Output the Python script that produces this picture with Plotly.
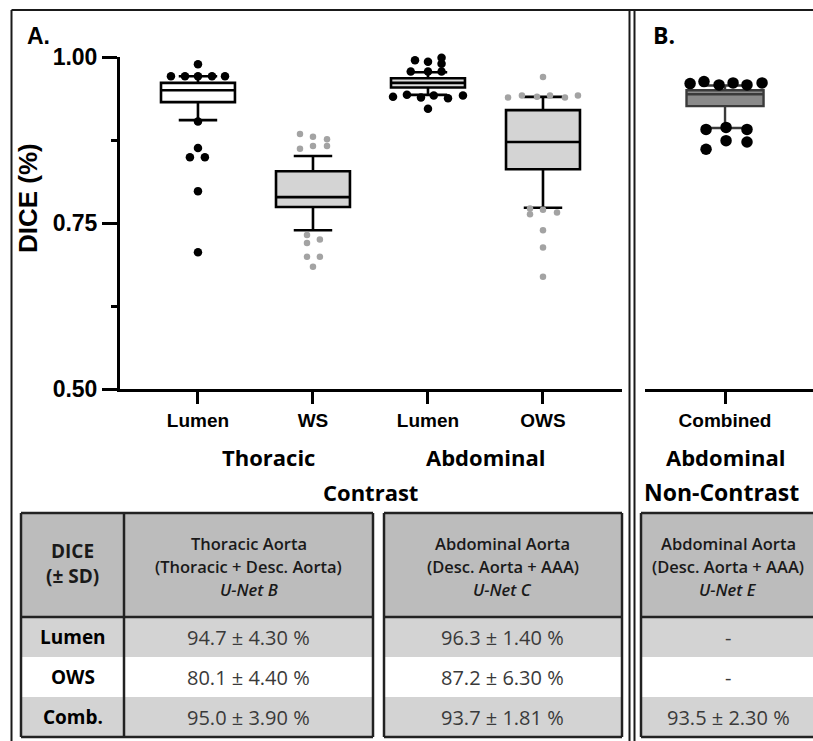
import plotly.graph_objects as go

W, H = 813, 741

# ---------------- data ----------------
a_labels = ["Lumen", "WS", "Lumen", "OWS"]
a_groups = ["Thoracic", "Abdominal"]
a_condition = "Contrast"
b_labels = ["Combined"]
b_group = "Abdominal"
b_condition = "Non-Contrast"

y_tickvals = [0.50, 0.75, 1.00]
y_ticktext = ["0.50", "0.75", "1.00"]
y_minorvals = [0.625, 0.875]

# box statistics (panel A, in order of a_labels)
a_q1 = [0.932, 0.774, 0.954, 0.831]
a_median = [0.950, 0.789, 0.961, 0.872]
a_q3 = [0.961, 0.828, 0.968, 0.920]
a_lower = [0.905, 0.739, 0.943, 0.773]
a_upper = [0.971, 0.851, 0.977, 0.940]

# box statistics (panel B)
b_q1 = [0.926]
b_median = [0.944]
b_q3 = [0.950]
b_lower = [0.893]
b_upper = [0.957]

# outliers (value, spread offset)
thor_lumen_out = [0.989, 0.971, 0.971, 0.971, 0.971, 0.971, 0.903, 0.863, 0.849, 0.849, 0.798, 0.706]
thor_lumen_dx = [0, -0.235, -0.113, 0, 0.122, 0.235, 0, 0, -0.07, 0.06, 0, 0]

thor_ws_out = [0.884, 0.862, 0.880, 0.866, 0.876, 0.866, 0.732, 0.720, 0.725, 0.699, 0.699, 0.684]
thor_ws_dx = [-0.113, -0.113, 0, 0, 0.122, 0.122, -0.052, -0.052, 0.06, -0.052, 0.06, 0]

abd_lumen_out = [0.995, 0.993, 0.999, 0.990, 0.978, 0.978, 0.978,
                 0.940, 0.943, 0.939, 0.942, 0.938, 0.942, 0.922]
abd_lumen_dx = [-0.113, 0, 0.118, 0.118, -0.15, 0, 0.118,
                -0.304, -0.183, -0.061, 0.05, 0.174, 0.304, 0]

abd_ows_out = [0.970, 0.939, 0.942, 0.940, 0.942, 0.939, 0.942,
               0.772, 0.763, 0.770, 0.766, 0.739, 0.713, 0.669]
abd_ows_dx = [0, -0.304, -0.183, -0.052, 0.061, 0.191, 0.304,
              -0.113, -0.113, 0, 0.122, 0, 0, 0]

b_out = [0.960, 0.963, 0.958, 0.961, 0.958, 0.961, 0.891, 0.894, 0.891, 0.874, 0.872, 0.861]
b_dx = [-0.304, -0.183, -0.052, 0.070, 0.191, 0.322, -0.165, 0.009, 0.191, 0.009, 0.191, -0.165]

# table
table_corner = ["DICE", "(± SD)"]
table_row_labels = ["Lumen", "OWS", "Comb."]
thor_header = ["Thoracic Aorta", "(Thoracic + Desc. Aorta)", "<i>U-Net B</i>"]
thor_values = ["94.7 ± 4.30 %", "80.1 ± 4.40 %", "95.0 ± 3.90 %"]
abd_header = ["Abdominal Aorta", "(Desc. Aorta + AAA)", "<i>U-Net C</i>"]
abd_values = ["96.3 ± 1.40 %", "87.2 ± 6.30 %", "93.7 ± 1.81 %"]
nc_header = ["Abdominal Aorta", "(Desc. Aorta + AAA)", "<i>U-Net E</i>"]
nc_values = ["-", "-", "93.5 ± 2.30 %"]

# ---------------- helpers ----------------
def px(x):
    return x / W


def py(y):
    return 1 - y / H


AX_FONT = "Liberation Sans, Arial, sans-serif"
TB_FONT = "Open Sans, Noto Sans, sans-serif"

fig = go.Figure()

a_fill = ["#ffffff", "#d4d4d4", "#dcdcdc", "#d4d4d4"]
for i in range(len(a_labels)):
    fig.add_trace(go.Box(
        x=[i], q1=[a_q1[i]], median=[a_median[i]], q3=[a_q3[i]],
        lowerfence=[a_lower[i]], upperfence=[a_upper[i]],
        width=0.643, whiskerwidth=0.52, boxpoints=False,
        fillcolor=a_fill[i], line=dict(color="black", width=2.6),
        xaxis="x", yaxis="y", hoverinfo="skip",
    ))

fig.add_trace(go.Box(
    x=[0], q1=b_q1, median=b_median, q3=b_q3,
    lowerfence=b_lower, upperfence=b_upper,
    width=0.67, whiskerwidth=0.53, boxpoints=False,
    fillcolor="#8a8a8a", line=dict(color="#3a3a3a", width=2.4),
    xaxis="x2", yaxis="y2", hoverinfo="skip",
))

out_sets = [
    (0, thor_lumen_out, thor_lumen_dx, "black", 8.5),
    (1, thor_ws_out, thor_ws_dx, "#a3a3a3", 6.5),
    (2, abd_lumen_out, abd_lumen_dx, "black", 8.5),
    (3, abd_ows_out, abd_ows_dx, "#a3a3a3", 6.5),
]
for pos, vals, dxs, col, sz in out_sets:
    fig.add_trace(go.Scatter(
        x=[pos + d for d in dxs], y=vals, mode="markers",
        marker=dict(color=col, size=sz, line=dict(width=0)),
        cliponaxis=False, xaxis="x", yaxis="y", hoverinfo="skip",
    ))

fig.add_trace(go.Scatter(
    x=[0 + d for d in b_dx], y=b_out, mode="markers",
    marker=dict(color="black", size=11.5, line=dict(width=0)),
    cliponaxis=False, xaxis="x2", yaxis="y2", hoverinfo="skip",
))

ydom = [py(389), py(57)]
axis_common = dict(showgrid=False, zeroline=False, showline=True, linecolor="black",
                   linewidth=3, ticks="outside", tickcolor="black", tickwidth=2.6,
                   automargin=False)

fig.update_layout(
    width=W, height=H, margin=dict(l=0, r=0, t=0, b=0, pad=0, autoexpand=False),
    paper_bgcolor="white", plot_bgcolor="rgba(0,0,0,0)", showlegend=False,
    xaxis=dict(domain=[px(120), px(622)], range=[-0.678, 3.687], anchor="y",
               tickvals=list(range(len(a_labels))), ticktext=a_labels, ticklen=12,
               tickfont=dict(family=AX_FONT, size=19, color="black", weight="bold"),
               **axis_common),
    yaxis=dict(domain=ydom, range=[0.5, 1.0], anchor="x",
               tickvals=y_tickvals, ticktext=y_ticktext, ticklen=15,
               tickfont=dict(family=AX_FONT, size=23, color="black", weight="bold"),
               minor=dict(tickvals=y_minorvals, ticks="outside", ticklen=6,
                          tickwidth=2.6, tickcolor="black", showgrid=False),
               **axis_common),
    xaxis2=dict(domain=[px(645), 1.0], range=[-0.696, 0.765], anchor="y2",
                tickvals=[0], ticktext=b_labels, ticklen=12,
                tickfont=dict(family=AX_FONT, size=19, color="black", weight="bold"),
                **axis_common),
    yaxis2=dict(domain=ydom, range=[0.5, 1.0], anchor="x2", visible=False, automargin=False),
)

annotations = []
shapes = []


def text(x, y, s, size, family=AX_FONT, weight="bold", color="black", angle=0, xanchor="center"):
    annotations.append(dict(
        x=px(x), y=py(y), xref="paper", yref="paper", text=s, showarrow=False,
        xanchor=xanchor, yanchor="middle", textangle=angle,
        font=dict(family=family, size=size, color=color, weight=weight),
    ))


# panel letters, axis title, group labels
text(38, 36, "A.", 23)
text(664, 35, "B.", 23, family=TB_FONT)
text(28, 198, "DICE (%)", 26, angle=-90)

for gi, g in enumerate(a_groups):
    annotations.append(dict(
        x=[0.61, 2.5][gi], y=py(457), xref="x", yref="paper", text=g, showarrow=False,
        xanchor="center", yanchor="middle",
        font=dict(family=TB_FONT, size=22, color="black", weight="bold")))
annotations.append(dict(
    x=1.5, y=py(492), xref="x", yref="paper", text=a_condition, showarrow=False,
    xanchor="center", yanchor="middle",
    font=dict(family=TB_FONT, size=22, color="black", weight="bold")))
annotations.append(dict(
    x=0, y=py(457), xref="x2", yref="paper", text=b_group, showarrow=False,
    xanchor="center", yanchor="middle",
    font=dict(family=TB_FONT, size=22, color="black", weight="bold")))
annotations.append(dict(
    x=-0.03, y=py(492), xref="x2", yref="paper", text=b_condition, showarrow=False,
    xanchor="center", yanchor="middle",
    font=dict(family=TB_FONT, size=23, color="black", weight="bold")))

# panel frame
FRAME = "#1a1a1a"


def line(x0, y0, x1, y1, color=FRAME, width=2):
    shapes.append(dict(type="line", xref="paper", yref="paper",
                       x0=px(x0), y0=py(y0), x1=px(x1), y1=py(y1),
                       line=dict(color=color, width=width), layer="above"))


def rect(x0, y0, x1, y1, fill, lcolor=None, width=0):
    shapes.append(dict(type="rect", xref="paper", yref="paper",
                       x0=px(x0), y0=py(y0), x1=px(x1), y1=py(y1),
                       fillcolor=fill,
                       line=dict(color=lcolor or fill, width=width), layer="below"))


line(11.5, 10, 11.5, 741)
line(11.5, 10, 813, 10)
line(629.5, 10, 629.5, 741)
line(634.5, 10, 634.5, 741)

# tables
HDR_TOP, HDR_BOT = 513, 617
ROW_EDGES = [617, 657, 697, 737]
ROW_FILLS = ["#d3d3d3", "#ffffff", "#d3d3d3"]
HDR_FILL = "#bcbcbc"
TLINE = "#222222"


def table_block(x0, x1, header, values, label_col=None):
    rect(x0, HDR_TOP, x1, HDR_BOT, HDR_FILL)
    for r in range(3):
        rect(x0, ROW_EDGES[r], x1, ROW_EDGES[r + 1], ROW_FILLS[r])
    # borders
    line(x0, HDR_TOP, x1, HDR_TOP, TLINE, 2.5)
    line(x0, ROW_EDGES[-1], x1, ROW_EDGES[-1], TLINE, 2.5)
    line(x0, HDR_TOP, x0, ROW_EDGES[-1], TLINE, 2.5)
    line(x1, HDR_TOP, x1, ROW_EDGES[-1], TLINE, 2.5)
    line(x0, HDR_BOT, x1, HDR_BOT, TLINE, 2.5)
    cx0 = x0
    if label_col is not None:
        line(label_col, HDR_TOP, label_col, ROW_EDGES[-1], TLINE, 2.5)
        lc = (x0 + label_col) / 2
        text(lc, 551, table_corner[0], 19, family=TB_FONT, weight="bold", color="#1a1a1a")
        text(lc, 576, table_corner[1], 19, family=TB_FONT, weight="bold", color="#1a1a1a")
        for r, lab in enumerate(table_row_labels):
            text(lc, (ROW_EDGES[r] + ROW_EDGES[r + 1]) / 2, lab, 19, family=TB_FONT, weight="bold")
        cx0 = label_col
    cc = (cx0 + x1) / 2
    for k, s in enumerate(header):
        text(cc, 543 + 23 * k, s, 16.5, family=TB_FONT, weight=600, color="#1a1a1a")
    for r, v in enumerate(values):
        text(cc, (ROW_EDGES[r] + ROW_EDGES[r + 1]) / 2, v, 20, family=TB_FONT,
             weight="normal", color="#3a3a3a")


table_block(21, 373, thor_header, thor_values, label_col=124)
table_block(384, 622, abd_header, abd_values)
table_block(641, 815, nc_header, nc_values)

fig.update_layout(annotations=annotations, shapes=shapes)
fig.write_html("out.html")
